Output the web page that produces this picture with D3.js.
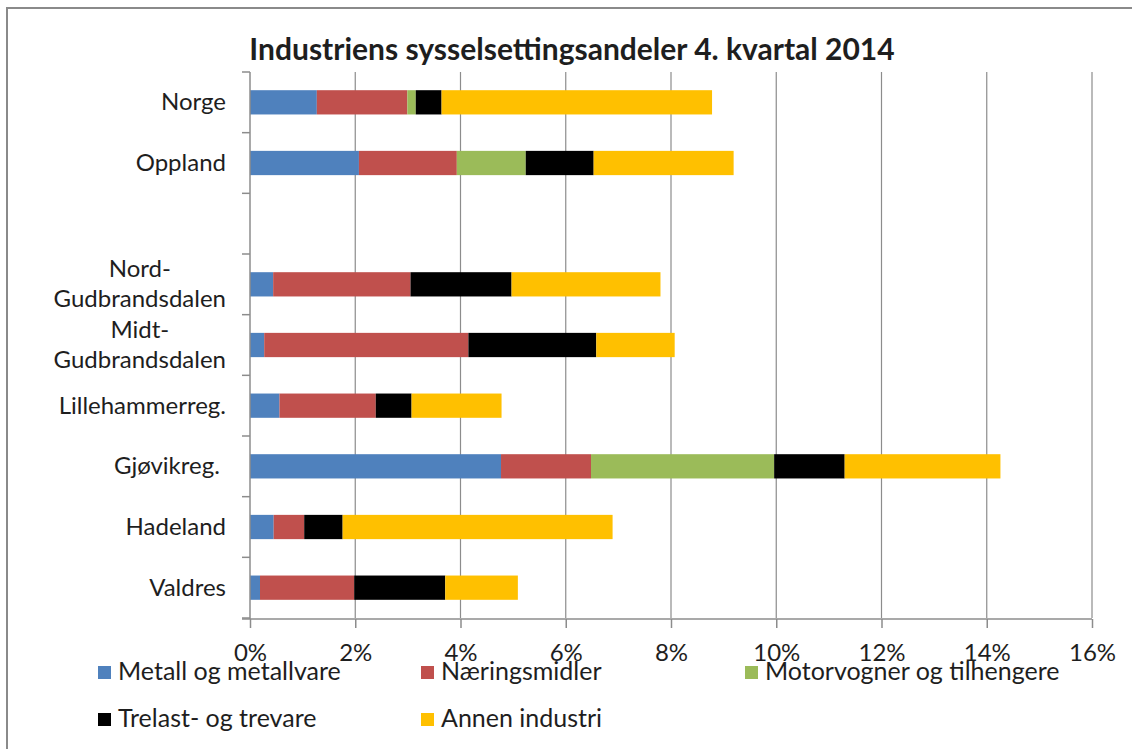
<!DOCTYPE html>
<html><head><meta charset="utf-8">
<script src="https://cdn.jsdelivr.net/npm/d3@7"></script>
<style>
html,body{margin:0;padding:0;background:#fff;}
text{font-family:Lato,"Open Sans",sans-serif;fill:#1e1e1e;}
</style></head>
<body>
<svg id="chart" width="1132" height="749"></svg>
<script>
const title = "Industriens sysselsettingsandeler 4. kvartal 2014";
const categories = ["Norge","Oppland","","Nord-Gudbrandsdalen","Midt-Gudbrandsdalen","Lillehammerreg.","Gjøvikreg. ","Hadeland","Valdres"];
const seriesNames = ["Metall og metallvare","Næringsmidler","Motorvogner og tilhengere","Trelast- og trevare","Annen industri"];
const colors = ["#4F81BD","#C0504D","#9BBB59","#000000","#FFC000"];
const metall   = [1.27, 2.07, 0, 0.44, 0.27, 0.56, 4.77, 0.45, 0.19];
const naering  = [1.72, 1.86, 0, 2.61, 3.88, 1.83, 1.71, 0.58, 1.79];
const motor    = [0.16, 1.31, 0, 0,    0,    0,    3.48, 0,    0   ];
const trelast  = [0.49, 1.29, 0, 1.92, 2.43, 0.68, 1.34, 0.73, 1.73];
const annen    = [5.14, 2.66, 0, 2.83, 1.49, 1.71, 2.96, 5.13, 1.38];
const xTicks = [0,2,4,6,8,10,12,14,16];

const svg = d3.select("#chart");
const seriesVals = [metall, naering, motor, trelast, annen];
const rows = categories.map((c,i)=>{const o={cat:c}; seriesNames.forEach((s,j)=>o[s]=seriesVals[j][i]); return o;});
const stacked = d3.stack().keys(seriesNames)(rows);

const x = d3.scaleLinear().domain([0,16]).range([250,1092]);
const y = d3.scaleBand().domain(categories).range([72,618]).padding(0);
const grid = "#8c8c8c";

// frame
svg.append("rect").attr("x",7).attr("y",8).attr("width",1140).attr("height",760)
  .attr("fill","none").attr("stroke","#8a8a8a").attr("stroke-width",2);

// title
svg.append("text").attr("x",572).attr("y",60).attr("text-anchor","middle")
  .style("font-weight","bold").style("font-size","30px").text(title);

// gridlines
svg.append("g").selectAll("line").data(xTicks.slice(1)).join("line")
  .attr("x1",d=>x(d)).attr("x2",d=>x(d)).attr("y1",72).attr("y2",618)
  .attr("stroke",grid).attr("stroke-width",1.2);

// bars
const bh = y.bandwidth()*0.4;
svg.append("g").selectAll("g").data(stacked).join("g")
  .attr("fill",(d,i)=>colors[i])
  .selectAll("rect").data(d=>d).join("rect")
  .attr("x",d=>x(d[0])).attr("width",d=>Math.max(0,x(d[1])-x(d[0])))
  .attr("y",d=>y(d.data.cat)+(y.bandwidth()-bh)/2).attr("height",bh);

// y axis
const yAxisG = svg.append("g");
yAxisG.append("line").attr("x1",250).attr("x2",250).attr("y1",72).attr("y2",619).attr("stroke",grid).attr("stroke-width",1.5);
const bounds = categories.map(c=>y(c)).concat([y(categories[categories.length-1])+y.bandwidth()]);
yAxisG.selectAll("line.t").data(bounds).join("line").attr("class","t")
  .attr("x1",242).attr("x2",250).attr("y1",d=>d).attr("y2",d=>d).attr("stroke",grid).attr("stroke-width",1.5);

// x axis
const xAxis = d3.axisBottom(x).tickValues(xTicks).tickFormat(d=>d+"%").tickSize(9).tickSizeOuter(0);
const xg = svg.append("g").attr("transform","translate(0,619)").call(xAxis);
xg.select(".domain").remove();
xg.append("line").attr("x1",242).attr("x2",1092).attr("stroke",grid).attr("stroke-width",1.5);
xg.selectAll(".tick line").attr("stroke",grid).attr("stroke-width",1.5);
xg.selectAll(".tick text").attr("y",42).attr("dy",0).style("font-size","24px").style("fill","#1e1e1e");

// category labels
const labG = svg.append("g");
categories.forEach(c=>{
  if(!c.trim()) return;
  const cy = y(c)+y.bandwidth()/2;
  const parts = c.includes("-") ? [c.slice(0,c.indexOf("-")+1), c.slice(c.indexOf("-")+1)] : [c];
  if(parts.length===1){
    labG.append("text").attr("x",226).attr("y",cy+8).attr("text-anchor","end")
      .style("font-size","24px").style("white-space","pre").text(c);
  } else {
    const t2 = labG.append("text").attr("x",226).attr("y",cy+23).attr("text-anchor","end")
      .style("font-size","24px").text(parts[1]);
    const w = t2.node().getComputedTextLength();
    labG.append("text").attr("x",226-w/2).attr("y",cy-7).attr("text-anchor","middle")
      .style("font-size","24px").text(parts[0]);
  }
});

// legend
const legPos = [[98,666],[421,666],[745,666],[98,713],[421,713]];
const lg = svg.append("g");
seriesNames.forEach((s,i)=>{
  const [lx,ly] = legPos[i];
  lg.append("rect").attr("x",lx).attr("y",ly).attr("width",13).attr("height",13).attr("fill",colors[i]);
  lg.append("text").attr("x",lx+20).attr("y",ly+14).style("font-size","25px").text(s);
});
</script>
</body></html>
